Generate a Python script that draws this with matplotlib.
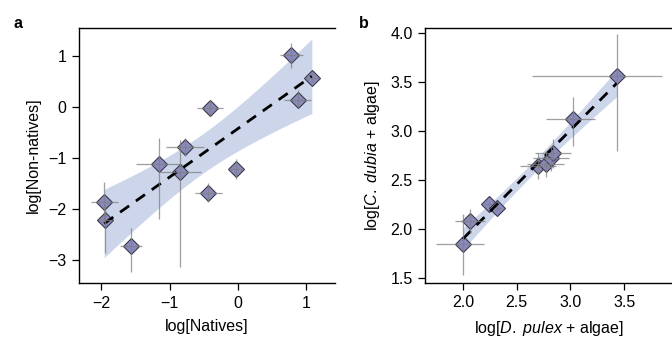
import numpy as np
import matplotlib
matplotlib.use("Agg")
import matplotlib.pyplot as plt

plt.rcParams['font.family'] = ['Liberation Sans', 'DejaVu Sans']
plt.rcParams['mathtext.fontset'] = 'custom'
plt.rcParams['mathtext.it'] = 'Liberation Sans:italic'
plt.rcParams['mathtext.rm'] = 'Liberation Sans'

# Panel a data
xa = np.array([0.79, 1.09, 0.88, -0.41, -0.77, -1.16, -0.84, -0.03, -0.43, -1.96, -1.95, -1.57])
ya = np.array([1.02, 0.57, 0.14, -0.03, -0.79, -1.13, -1.27, -1.22, -1.68, -1.87, -2.22, -2.73])
xa_err = np.array([0.17, 0.10, 0.20, 0.19, 0.28, 0.34, 0.30, 0.11, 0.20, 0.20, 0.09, 0.16])
ya_err_lo = np.array([0.27, 0.08, 0.17, 0.16, 0.18, 1.06, 1.86, 0.20, 0.18, 0.39, 0.65, 0.50])
ya_err_hi = np.array([0.22, 0.08, 0.19, 0.16, 0.18, 0.51, 0.62, 0.20, 0.18, 0.39, 0.30, 0.35])

# Panel b data
xb = np.array([2.00, 2.065, 2.24, 2.32, 2.70, 2.77, 2.82, 2.84, 3.02, 3.43])
yb = np.array([1.85, 2.08, 2.26, 2.21, 2.64, 2.66, 2.72, 2.77, 3.12, 3.56])
xb_err_lo = np.array([0.25, 0.14, 0.03, 0.03, 0.17, 0.17, 0.17, 0.17, 0.25, 0.79])
xb_err_hi = np.array([0.20, 0.14, 0.03, 0.03, 0.17, 0.17, 0.17, 0.17, 0.21, 0.42])
yb_err_lo = np.array([0.32, 0.12, 0.03, 0.03, 0.13, 0.13, 0.13, 0.15, 0.27, 0.77])
yb_err_hi = np.array([0.30, 0.12, 0.03, 0.03, 0.13, 0.13, 0.13, 0.15, 0.22, 0.43])

MARKER_FC = '#8a8abf'
MARKER_EC = '#3a3a4a'
ERR_C = '#7f7f7f'
BAND_C = '#ccd5ea'
FS = 11.5


def fit_band(x, y, n=200):
    b, a = np.polyfit(x, y, 1)
    xs = np.linspace(x.min(), x.max(), n)
    yhat = a + b * xs
    res = y - (a + b * x)
    dof = len(x) - 2
    s = np.sqrt(np.sum(res ** 2) / dof)
    t = 2.2281 if dof == 10 else 2.306
    se = s * np.sqrt(1 / len(x) + (xs - x.mean()) ** 2 / np.sum((x - x.mean()) ** 2))
    return xs, yhat, yhat - t * se, yhat + t * se


def draw(ax, x, y, xerr, yerr):
    xs, yh, lo, hi = fit_band(x, y)
    ax.fill_between(xs, lo, hi, color=BAND_C, lw=0, zorder=1)
    ax.plot(xs, yh, color='black', lw=2.0, ls=(0, (4.0, 3.0)), zorder=4)
    ax.plot(x, y, ls='none', marker='D', ms=8.5, mfc=MARKER_FC, mec=MARKER_EC,
            mew=0.8, zorder=3)
    ax.errorbar(x, y, xerr=xerr, yerr=yerr, fmt='none', ecolor=ERR_C,
                elinewidth=0.9, alpha=0.75, zorder=5)


fig = plt.figure(figsize=(6.72, 3.41), dpi=100)

axa = fig.add_axes([79 / 672, 1 - 283 / 341, 256 / 672, 255 / 341])
draw(axa, xa, ya, xa_err, [ya_err_lo, ya_err_hi])
axa.set_xlim(-2.33, 1.43)
axa.set_ylim(-3.45, 1.54)
axa.set_xticks([-2, -1, 0, 1])
axa.set_xticklabels(['\u22122', '\u22121', '0', '1'])
axa.set_yticks([1, 0, -1, -2, -3])
axa.set_yticklabels(['1', '0', '\u22121', '\u22122', '\u22123'])
axa.set_xlabel('log[Natives]', fontsize=FS, labelpad=6)
axa.set_ylabel('log[Non-natives]', fontsize=FS, labelpad=5)

axb = fig.add_axes([425.3 / 672, 1 - 282.7 / 341, (672 - 425.3) / 672, 255 / 341])
draw(axb, xb, yb, [xb_err_lo, xb_err_hi], [yb_err_lo, yb_err_hi])
axb.set_xlim(1.65, 3.945)
axb.set_ylim(1.454, 4.05)
axb.set_xticks([2.0, 2.5, 3.0, 3.5])
axb.set_xticklabels(['2.0', '2.5', '3.0', '3.5'])
axb.set_yticks([1.5, 2.0, 2.5, 3.0, 3.5, 4.0])
axb.set_yticklabels(['1.5', '2.0', '2.5', '3.0', '3.5', '4.0'])
axb.set_xlabel(r'log[$\mathit{D.\ pulex}$ + algae]', fontsize=FS, labelpad=6)
axb.set_ylabel(r'log[$\mathit{C.\ dubia}$ + algae]', fontsize=FS, labelpad=6)

for ax in (axa, axb):
    ax.spines['right'].set_visible(False)
    for s in ('left', 'top', 'bottom'):
        ax.spines[s].set_linewidth(1.0)
    ax.tick_params(direction='out', length=5, width=0.9, labelsize=FS, pad=4)

fig.text(14 / 672, 1 - 23 / 341, 'a', fontsize=11.5, fontweight='bold', va='center', ha='left')
fig.text(359 / 672, 1 - 23 / 341, 'b', fontsize=11.5, fontweight='bold', va='center', ha='left')

fig.savefig('out.png', dpi=100)
